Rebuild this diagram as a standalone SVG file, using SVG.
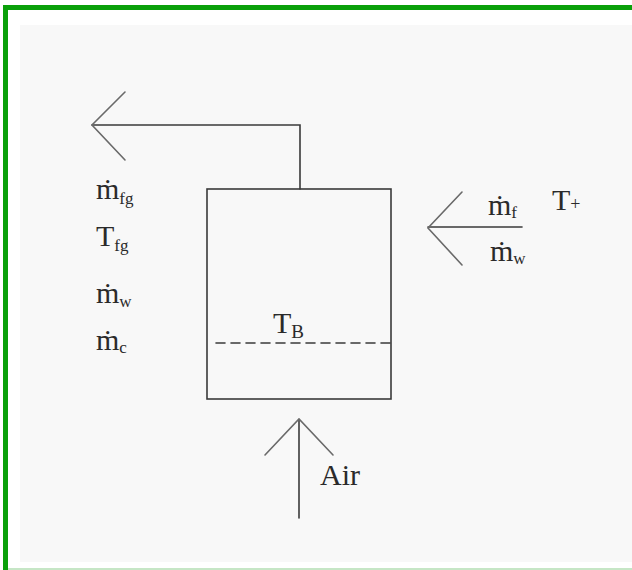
<svg xmlns="http://www.w3.org/2000/svg" width="632" height="570" viewBox="0 0 632 570">
<style>
.ln{stroke:#3a3a3a;stroke-width:1.6;fill:none;stroke-linecap:round}
.ar{stroke:#6a6a6a;stroke-width:1.6;fill:none;stroke-linecap:round}
.t{font-family:"Liberation Serif","DejaVu Serif",serif;font-size:30px;fill:#2a2a2a}
.s{font-size:17px}
</style>
<rect x="0" y="0" width="632" height="570" fill="#ffffff"/>
<rect x="20" y="25" width="612" height="537" fill="#f8f8f8"/>
<rect x="3" y="5" width="629" height="5" fill="#0aa00a"/>
<rect x="3" y="5" width="5" height="565" fill="#0aa00a"/>
<rect x="8" y="568" width="624" height="2" fill="#c6e6c6"/>

<g id="connectors">
  <path class="ln" d="M300,189 V125 H92"/>
  <path class="ar" d="M125,92 L92,125 L125,160"/>
  <path class="ln" d="M522,227 H428"/>
  <path class="ar" d="M462,192 L428,228 L462,265"/>
  <path class="ln" d="M299,518 V420"/>
  <path class="ar" d="M265,455 L299,419 L333,455"/>
</g>

<g id="vessel">
  <rect class="ln" x="207" y="189" width="184" height="210"/>
  <line class="ln" x1="216" y1="343" x2="391" y2="343" stroke-dasharray="9,6"/>
  <text class="t" font-size="27" x="273" y="333">T<tspan font-size="19" dy="5">B</tspan></text>
</g>

<g id="outlet-labels">
  <text class="t" x="96" y="199">ṁ<tspan class="s" dy="5">fg</tspan></text>
  <text class="t" x="96" y="246">T<tspan class="s" dy="5">fg</tspan></text>
  <text class="t" x="96" y="303">ṁ<tspan class="s" dy="4">w</tspan></text>
  <text class="t" x="96" y="350">ṁ<tspan class="s" dy="3">c</tspan></text>
</g>

<g id="inlet-labels">
  <text class="t" x="488" y="215">ṁ<tspan class="s" dy="3">f</tspan></text>
  <text class="t" font-size="26" x="552" y="210">T<tspan font-size="18">+</tspan></text>
  <text class="t" x="490" y="261">ṁ<tspan class="s" dy="3">w</tspan></text>
</g>

<g id="air-label">
  <text class="t" font-size="23" x="320" y="485">Air</text>
</g>
</svg>
